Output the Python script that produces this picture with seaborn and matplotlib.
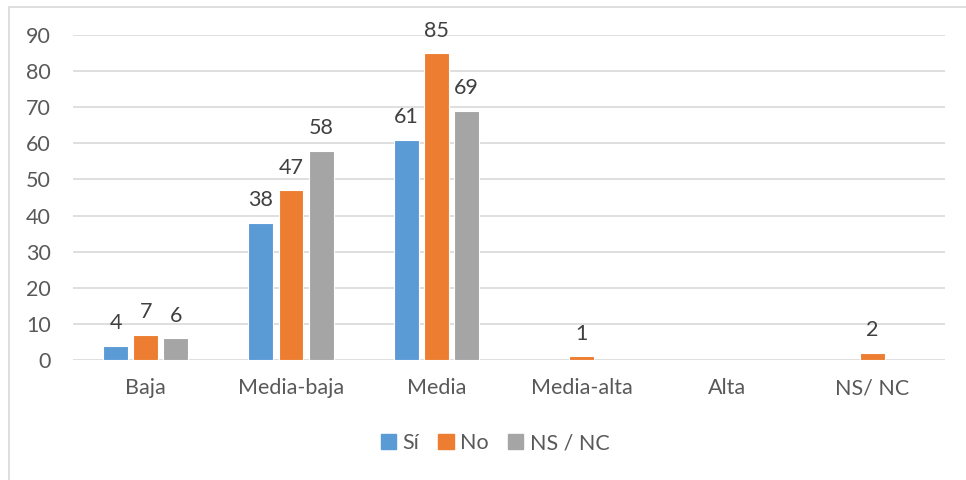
import numpy as np
import pandas as pd
import matplotlib
matplotlib.use("Agg")
import matplotlib.pyplot as plt
import matplotlib.patches as mpatches
import seaborn as sns

# data (blank cells -> None)
categories = ["Baja", "Media-baja", "Media", "Media-alta", "Alta", "NS/ NC"]
series_names = ["Sí", "No", "NS / NC"]
si_values = [4, 38, 61, None, None, None]
no_values = [7, 47, 85, 1, None, 2]
nsnc_values = [6, 58, 69, None, None, None]
y_ticks = [0, 10, 20, 30, 40, 50, 60, 70, 80, 90]

colors = ["#5B9BD5", "#ED7D31", "#A5A5A5"]


def build_frame():
    rows = []
    for name, vals in zip(series_names, [si_values, no_values, nsnc_values]):
        for cat, v in zip(categories, vals):
            rows.append({"categoria": cat, "serie": name,
                         "valor": np.nan if v is None else v})
    return pd.DataFrame(rows)


def main():
    sns.set_style("white")
    plt.rcParams["font.family"] = ["Lato", "DejaVu Sans"]
    text_gray = "#595959"
    fs = 15.5

    df = build_frame()
    fig = plt.figure(figsize=(9.66, 4.8), dpi=100)
    ax = fig.add_axes([73 / 966, 0.25, (945 - 73) / 966, (360 - 35) / 480])

    sns.barplot(data=df, x="categoria", y="valor", hue="serie",
                order=categories, hue_order=series_names, palette=colors,
                width=0.62, gap=0.17, edgecolor="white", linewidth=0.8,
                saturation=1, errorbar=None, ax=ax)

    for cont in ax.containers:
        ax.bar_label(cont, fmt="%g", padding=9, fontsize=fs, color="#404040")

    ax.set_ylim(0, 90)
    ax.set_yticks(y_ticks)
    ax.set_xlim(-0.5, len(categories) - 0.5)
    ax.yaxis.grid(True, color="#D9D9D9", linewidth=1.2)
    ax.set_axisbelow(True)
    for s in ax.spines.values():
        s.set_visible(False)
    ax.tick_params(axis="y", length=0, pad=16, labelsize=fs, labelcolor=text_gray)
    ax.tick_params(axis="x", length=0, pad=13, labelsize=fs, labelcolor=text_gray)
    ax.set_xlabel("")
    ax.set_ylabel("")

    handles = [mpatches.Patch(color=c, label=n) for c, n in zip(colors, series_names)]
    ax.legend_.remove()
    leg = fig.legend(handles=handles, loc="center", bbox_to_anchor=(495 / 966, 1 - 443 / 480),
                     ncol=3, frameon=False, fontsize=fs, handlelength=0.7,
                     handleheight=0.7, handletextpad=0.3, columnspacing=0.9)
    for t in leg.get_texts():
        t.set_color(text_gray)

    # chart area border
    fig.patches.append(mpatches.Rectangle((8.5 / 966, -0.01), 1.0, 1 - 6.5 / 480 + 0.01,
                                          transform=fig.transFigure, fill=False,
                                          edgecolor="#D9D9D9", linewidth=1.2))

    fig.savefig("out.png", dpi=100)
    plt.close(fig)


if __name__ == "__main__":
    main()
